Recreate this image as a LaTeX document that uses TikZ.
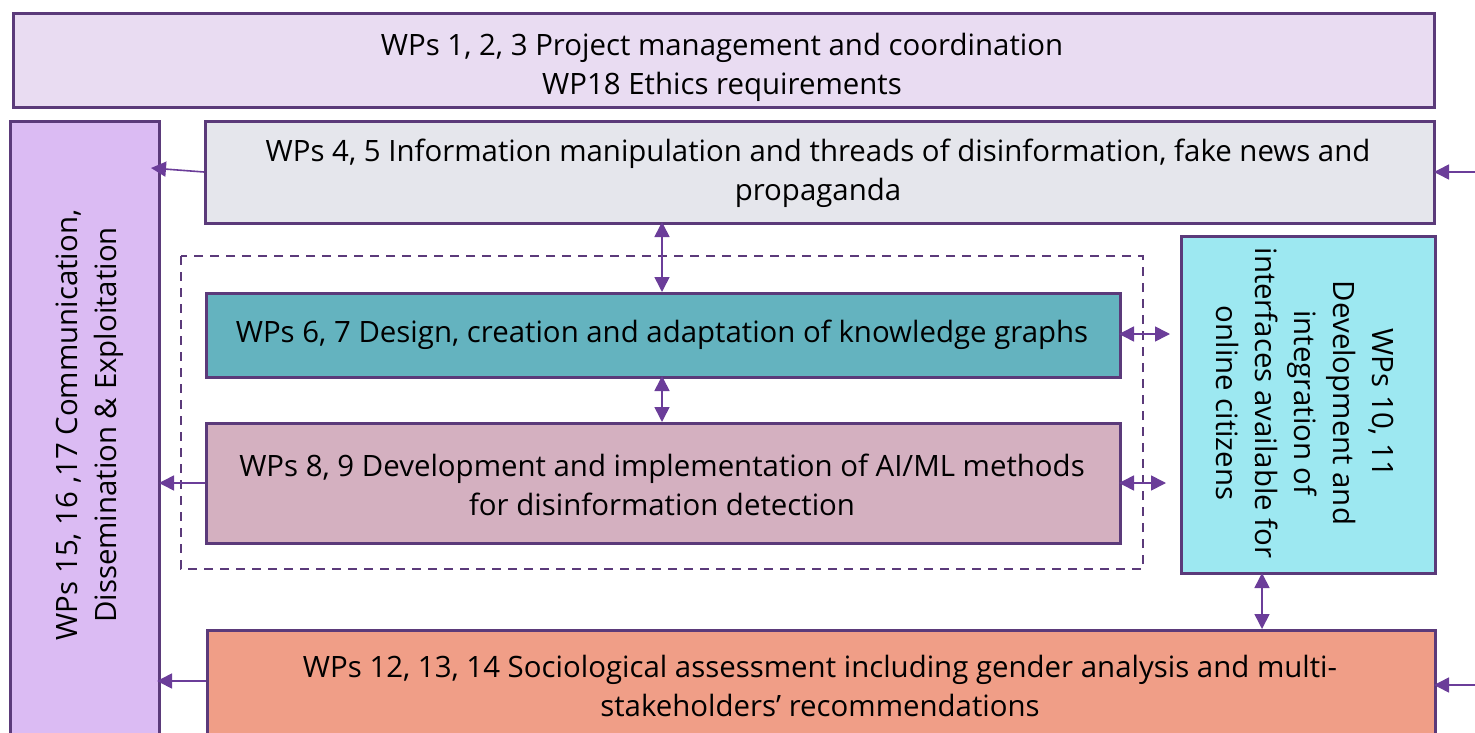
\documentclass[tikz,border=0pt]{standalone}
\usepackage{fontspec}
\setmainfont{Open Sans}
\usetikzlibrary{arrows.meta}
\definecolor{bordc}{HTML}{5B3A7A}
\definecolor{arrc}{HTML}{6B3D99}
\definecolor{topc}{HTML}{E9DCF2}
\definecolor{leftc}{HTML}{DBBBF3}
\definecolor{grayc}{HTML}{E5E6EC}
\definecolor{tealc}{HTML}{64B3BF}
\definecolor{pinkc}{HTML}{D4B0C0}
\definecolor{cyanc}{HTML}{9DE8F1}
\definecolor{orangec}{HTML}{F09E87}
\tikzset{
  wpbox/.style={draw=bordc, line width=2.8pt, anchor=north west, inner sep=0pt},
  wptext/.style={align=center, font=\fontsize{29.4}{39}\selectfont, inner sep=0pt},
  conn/.style={draw=arrc, line width=1.6pt, -{Triangle[length=15pt,width=15pt]}},
  dconn/.style={draw=arrc, line width=1.6pt, {Triangle[length=15pt,width=15pt]}-{Triangle[length=15pt,width=15pt]}}
}
\begin{document}
\begin{tikzpicture}[x=1pt,y=-1pt]
\useasboundingbox (0,0) rectangle (1475,733);
\clip (0,0) rectangle (1475,733);
% boxes
\node[wpbox, fill=topc, minimum width=1421pt, minimum height=94pt] (top) at (12,12) {};
\node[wptext] (toptext) at (722,67) {WPs 1, 2, 3 Project management and coordination\\WP18 Ethics requirements};
\node[wpbox, fill=leftc, minimum width=149pt, minimum height=640pt] (left) at (9,120) {};
\node[wptext, rotate=90] (lefttext) at (90,425) {WPs 15, 16 ,17 Communication,\\Dissemination \& Exploitation};
\node[wpbox, fill=grayc, minimum width=1229pt, minimum height=102pt] (gray) at (204,120) {};
\node[wptext] (graytext) at (818,173) {WPs 4, 5 Information manipulation and threads of disinformation, fake news and\\propaganda};
\draw[draw=bordc, line width=1.6pt, dash pattern=on 9pt off 7pt] (181,256) rectangle (1143,569);
\node[wpbox, fill=tealc, minimum width=914pt, minimum height=84pt] (teal) at (205,292) {};
\node[wptext] (tealtext) at (662,335) {WPs 6, 7 Design, creation and adaptation of knowledge graphs};
\node[wpbox, fill=pinkc, minimum width=914pt, minimum height=120pt] (pink) at (205,422) {};
\node[wptext] (pinktext) at (662,485) {WPs 8, 9 Development and implementation of AI/ML methods\\for disinformation detection};
\node[wpbox, fill=cyanc, minimum width=254pt, minimum height=337pt] (cyan) at (1180,235) {};
\node[wptext, rotate=-90] (cyantext) at (1305,403) {WPs 10, 11\\Development and\\integration of\\interfaces available for\\online citizens};
\node[wpbox, fill=orangec, minimum width=1228pt, minimum height=130pt] (orange) at (206,629) {};
\node[wptext] (orangetext) at (820,686) {WPs 12, 13, 14 Sociological assessment including gender analysis and multi-\\stakeholders’ recommendations};
% free ends
\coordinate (gl) at (204,172);
\coordinate (gla) at (151,168);
\coordinate (gr) at (1476,172);
\coordinate (gra) at (1434,172);
\coordinate (gb) at (662,222);
\coordinate (tt) at (662,292);
\coordinate (tb) at (662,376);
\coordinate (pt) at (662,422);
\coordinate (tr) at (1119,334);
\coordinate (tra) at (1170,334);
\coordinate (pr) at (1119,483);
\coordinate (pra) at (1166,483);
\coordinate (pl) at (205,483);
\coordinate (pla) at (159,483);
\coordinate (cb) at (1262,573);
\coordinate (ot) at (1262,629);
\coordinate (ol) at (206,681);
\coordinate (ola) at (157,681);
\coordinate (or) at (1476,685);
\coordinate (ora) at (1434,685);
% connectors
\draw[conn] (gl) -- (gla);
\draw[conn] (gr) -- (gra);
\draw[dconn] (gb) -- (tt);
\draw[dconn] (tb) -- (pt);
\draw[dconn] (tr) -- (tra);
\draw[dconn] (pr) -- (pra);
\draw[conn] (pl) -- (pla);
\draw[dconn] (cb) -- (ot);
\draw[conn] (ol) -- (ola);
\draw[conn] (or) -- (ora);
\end{tikzpicture}
\end{document}
